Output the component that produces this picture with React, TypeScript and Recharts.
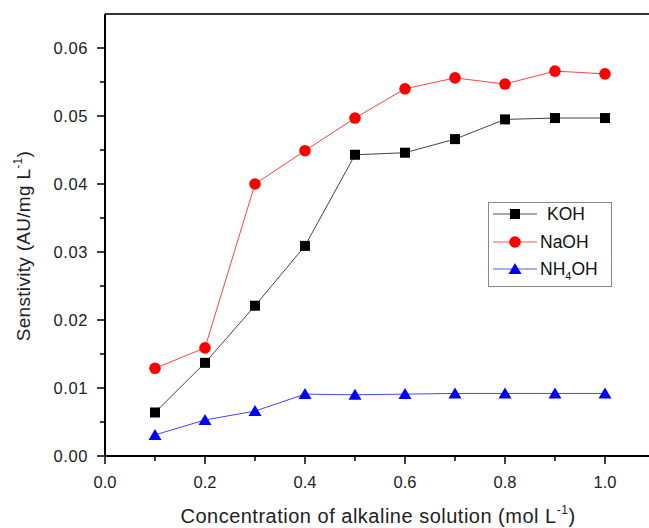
import React from "react";
import { LineChart, Line, XAxis, YAxis, Legend, ReferenceLine } from "recharts";

const xValues = [0.1, 0.2, 0.3, 0.4, 0.5, 0.6, 0.7, 0.8, 0.9, 1.0];
const kohValues = [0.0064, 0.0137, 0.0221, 0.0309, 0.0443, 0.0446, 0.0466, 0.0495, 0.0497, 0.0497];
const naohValues = [0.0129, 0.0159, 0.0400, 0.0449, 0.0497, 0.0540, 0.0556, 0.0547, 0.0566, 0.0562];
const nh4ohValues = [0.0031, 0.0053, 0.0066, 0.0091, 0.0090, 0.0091, 0.0092, 0.0092, 0.0092, 0.0092];

const xTicks = [0, 0.1, 0.2, 0.3, 0.4, 0.5, 0.6, 0.7, 0.8, 0.9, 1.0];
const xTickLabels = ["0.0", "", "0.2", "", "0.4", "", "0.6", "", "0.8", "", "1.0"];
const yTicks = [0, 0.005, 0.01, 0.015, 0.02, 0.025, 0.03, 0.035, 0.04, 0.045, 0.05, 0.055, 0.06];
const yTickLabels = ["0.00", "", "0.01", "", "0.02", "", "0.03", "", "0.04", "", "0.05", "", "0.06"];

const data = xValues.map((x, i) => ({
  x,
  koh: kohValues[i],
  naoh: naohValues[i],
  nh4oh: nh4ohValues[i],
}));

const FONT = "'Liberation Sans', Arial, sans-serif";

const XTick = (props: any) => {
  const { x, y, index } = props;
  const label = xTickLabels[index] ?? "";
  const major = label !== "";
  return (
    <g>
      <line x1={x} y1={y} x2={x} y2={y + (major ? 8 : 5)} stroke="#000" strokeWidth={1.5} />
      {major && (
        <text x={x} y={y + 32} textAnchor="middle" fontSize={16.5} fontFamily={FONT} fill="#222">
          {label}
        </text>
      )}
    </g>
  );
};

const YTick = (props: any) => {
  const { x, y, index } = props;
  const label = yTickLabels[index] ?? "";
  const major = label !== "";
  return (
    <g>
      <line x1={x - (major ? 8 : 5)} y1={y} x2={x} y2={y} stroke="#000" strokeWidth={1.5} />
      {major && (
        <text
          x={x - 17}
          y={y + 6}
          textAnchor="end"
          fontSize={16.5}
          letterSpacing={0.6}
          fontFamily={FONT}
          fill="#222"
        >
          {label}
        </text>
      )}
    </g>
  );
};

const SquareDot = (props: any) => {
  const { cx, cy, index } = props;
  if (cx == null || cy == null) return <g key={`s${index}`} />;
  return <rect key={`s${index}`} x={cx - 5} y={cy - 5} width={10} height={10} fill="#000" />;
};
const CircleDot = (props: any) => {
  const { cx, cy, index } = props;
  if (cx == null || cy == null) return <g key={`c${index}`} />;
  return <circle key={`c${index}`} cx={cx} cy={cy} r={5.8} fill="#ff0000" />;
};
const TriDot = (props: any) => {
  const { cx, cy, index } = props;
  if (cx == null || cy == null) return <g key={`t${index}`} />;
  return (
    <polygon
      key={`t${index}`}
      points={`${cx},${cy - 6} ${cx - 6.5},${cy + 5} ${cx + 6.5},${cy + 5}`}
      fill="#0000ff"
    />
  );
};

const XLabel = () => {
  return (
    <text
      x={378}
      y={523}
      textAnchor="middle"
      fontSize={20}
      letterSpacing={0.5}
      fontFamily={FONT}
      fill="#222"
    >
      Concentration of alkaline solution (mol L
      <tspan fontSize={12} dy={-9}>-1</tspan>
      <tspan dy={9}>)</tspan>
    </text>
  );
};

const YLabel = () => {
  const cx = 30;
  const cy = 246;
  return (
    <text
      x={cx}
      y={cy}
      transform={`rotate(-90, ${cx}, ${cy})`}
      textAnchor="middle"
      fontSize={19}
      letterSpacing={0.3}
      fontFamily={FONT}
      fill="#222"
    >
      Senstivity (AU/mg L
      <tspan fontSize={12} dy={-8}>-1</tspan>
      <tspan dy={8}>)</tspan>
    </text>
  );
};

const LegendBox = () => {
  const rows = [
    { name: "KOH", color: "#555", mark: "square", y: 12, tx: 59 },
    { name: "NaOH", color: "#ff5555", mark: "circle", y: 40, tx: 52 },
    { name: "NH4OH", color: "#5555ff", mark: "tri", y: 67, tx: 52 },
  ];
  return (
    <svg width={124} height={85} style={{ display: "block" }}>
      <rect x={0.5} y={0.5} width={123} height={84} fill="#fff" stroke="#888" strokeWidth={1} />
      {rows.map((r) => (
        <g key={r.name}>
          <line x1={5} y1={r.y} x2={49} y2={r.y} stroke={r.color} strokeWidth={1} />
          {r.mark === "square" && <rect x={22} y={r.y - 5} width={10} height={10} fill="#000" />}
          {r.mark === "circle" && <circle cx={27} cy={r.y} r={5.8} fill="#ff0000" />}
          {r.mark === "tri" && (
            <polygon points={`27,${r.y - 6} 20.5,${r.y + 5} 33.5,${r.y + 5}`} fill="#0000ff" />
          )}
          <text x={r.tx} y={r.y + 6} fontSize={17.5} fontFamily={FONT} fill="#111">
            {r.name === "NH4OH" ? (
              <>
                NH
                <tspan fontSize={11} dy={5}>4</tspan>
                <tspan dy={-5}>OH</tspan>
              </>
            ) : (
              r.name
            )}
          </text>
        </g>
      ))}
    </svg>
  );
};

export default function App() {
  return (
    <div style={{ width: 649, height: 528, overflow: "hidden", background: "#fff" }}>
      <style>{`html,body{margin:0;padding:0;overflow:hidden;background:#fff}`}</style>
      <LineChart
        width={649}
        height={528}
        data={data}
        margin={{ top: 14, right: 0, bottom: 0, left: 0 }}
      >
        <XAxis
          dataKey="x"
          type="number"
          domain={[0, 1.088]}
          ticks={xTicks}
          interval={0}
          tickSize={0}
          tickMargin={0}
          tickLine={false}
          tick={<XTick />}
          axisLine={{ stroke: "#000", strokeWidth: 2 }}
          height={72}
          label={<XLabel />}
          allowDataOverflow
        />
        <YAxis
          type="number"
          domain={[0, 0.065]}
          ticks={yTicks}
          interval={0}
          tickSize={0}
          tickMargin={0}
          tickLine={false}
          tick={<YTick />}
          axisLine={{ stroke: "#000", strokeWidth: 2 }}
          width={105}
          label={<YLabel />}
        />
        <ReferenceLine y={0.065} stroke="#333" strokeWidth={2} />
        <Legend
          layout="horizontal"
          verticalAlign="middle"
          align="center"
          content={<LegendBox />}
          wrapperStyle={{ position: "absolute", left: 488, top: 202, width: 124, height: 85 }}
        />
        <Line
          type="linear"
          dataKey="koh"
          stroke="#444"
          strokeWidth={1}
          dot={SquareDot}
          activeDot={false}
          isAnimationActive={false}
        />
        <Line
          type="linear"
          dataKey="naoh"
          stroke="#ff4444"
          strokeWidth={1}
          dot={CircleDot}
          activeDot={false}
          isAnimationActive={false}
        />
        <Line
          type="linear"
          dataKey="nh4oh"
          stroke="#4444ff"
          strokeWidth={1}
          dot={TriDot}
          activeDot={false}
          isAnimationActive={false}
        />
      </LineChart>
    </div>
  );
}
